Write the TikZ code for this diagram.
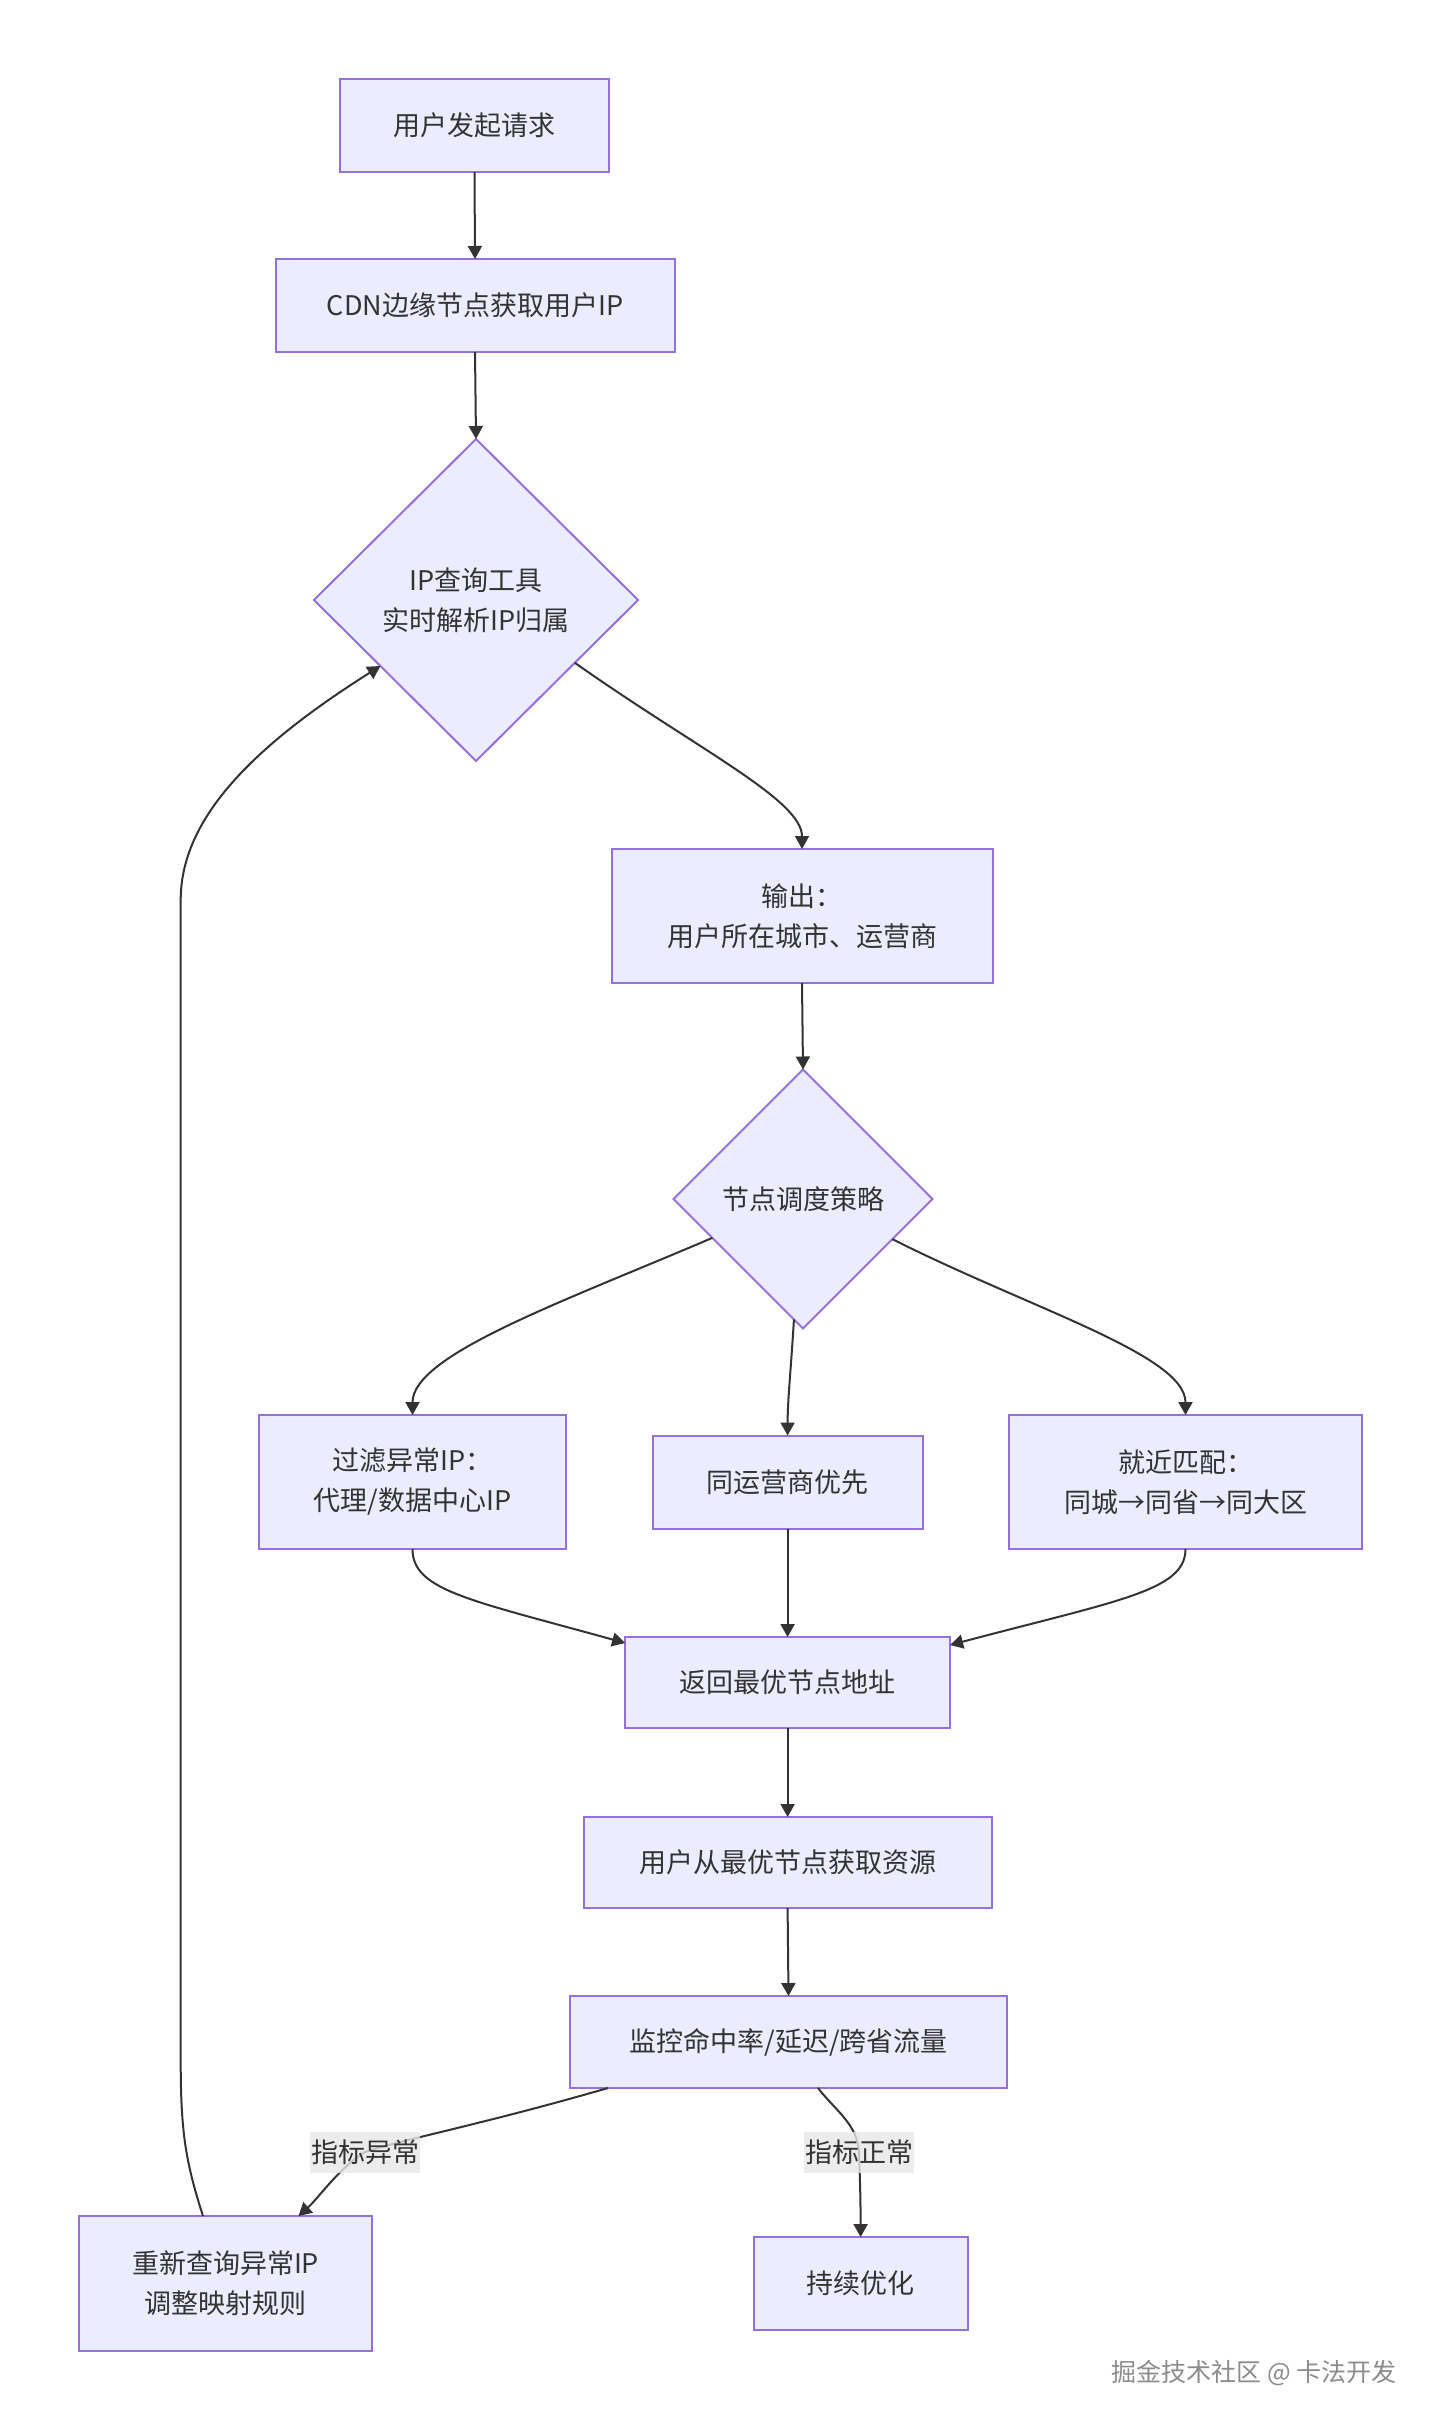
\documentclass[tikz,border=0pt]{standalone}
\usepackage{fontspec}
\setmainfont{Noto Sans CJK SC}
\usetikzlibrary{shapes.geometric,arrows.meta,calc}
\definecolor{nodefill}{HTML}{ECECFF}
\definecolor{nodeline}{HTML}{9370DB}
\definecolor{edgecol}{HTML}{333333}
\definecolor{lblfill}{HTML}{E8E8E8}
\definecolor{wmark}{HTML}{8C8C8C}
\begin{document}
\begin{tikzpicture}[x=1pt,y=-1pt,
  box/.style={draw=nodeline, fill=nodefill, line width=2pt, inner sep=0pt, outer sep=0pt, align=center, text=edgecol, font=\fontsize{27}{40}\selectfont},
  dec/.style={box, shape=diamond, aspect=1},
  edge/.style={draw=edgecol, line width=2pt, -{Triangle[length=13pt,width=14pt]}},
  lbl/.style={fill=lblfill, fill opacity=0.8, text opacity=1, text=edgecol, inner sep=0pt, minimum width=110pt, minimum height=41pt, font=\fontsize{27}{40}\selectfont},
]
\fill[white] (0,0) rectangle (1440,2430);
\useasboundingbox (0,0) rectangle (1440,2430);

\node[box, minimum width=269pt, minimum height=93pt] (b1) at (474.5,125.5) {用户发起请求};
\node[box, minimum width=399pt, minimum height=93pt] (b2) at (475,305.5) {CDN边缘节点获取用户IP};
\node[dec, minimum width=324pt, minimum height=322pt] (d1) at (476,600) {IP查询工具\\实时解析IP归属};
\node[box, minimum width=381pt, minimum height=134pt] (b4) at (802,916) {输出：\\用户所在城市、运营商};
\node[dec, minimum width=259pt, minimum height=259pt] (d2) at (803,1199) {节点调度策略};
\node[box, minimum width=307pt, minimum height=134pt] (b6) at (412.5,1482) {过滤异常IP：\\代理/数据中心IP};
\node[box, minimum width=270pt, minimum height=93pt] (b7) at (787.6,1482) {同运营商优先};
\node[box, minimum width=353pt, minimum height=134pt] (b8) at (1185.5,1482) {就近匹配：\\同城→同省→同大区};
\node[box, minimum width=325pt, minimum height=91pt] (b9) at (787.6,1682.5) {返回最优节点地址};
\node[box, minimum width=408pt, minimum height=91pt] (b10) at (787.6,1862.5) {用户从最优节点获取资源};
\node[box, minimum width=437pt, minimum height=92pt] (b11) at (788.5,2042) {监控命中率/延迟/跨省流量};
\node[box, minimum width=293pt, minimum height=135pt] (b12) at (225.5,2283.5) {重新查询异常IP\\调整映射规则};
\node[box, minimum width=214pt, minimum height=93pt] (b13) at (860.6,2283.5) {持续优化};

\coordinate (l1) at (365,2152);
\coordinate (l2) at (859,2152);

\draw[edge] (b1.south) -- (b2.north);
\draw[edge] (b2.south) -- (d1.north);
\draw[edge] ($(d1.east)!0.39!(d1.south)$) .. controls +(125,88) and +(0,-49) .. (b4.north);
\draw[edge] (b4.south) -- (d2.north);
\draw[edge] ($(d2.west)!0.30!(d2.south)$) .. controls +(-152,65) and +(0,-60) .. (b6.north);
\draw[edge] ($(d2.south)!0.07!(d2.west)$) .. controls +(-3,50) and +(0,-35) .. (b7.north);
\draw[edge] ($(d2.east)!0.31!(d2.south)$) .. controls +(139,70) and +(0,-60) .. (b8.north);
\draw[edge] (b6.south) .. controls +(0,41.5) and +(-155,-43) .. ($(b9.north west)+(0,6)$);
\draw[edge] (b7.south) -- (b9.north);
\draw[edge] (b8.south) .. controls +(0,41.5) and +(170,-45) .. ($(b9.north east)+(0,8)$);
\draw[edge] (b9.south) -- (b10.north);
\draw[edge] (b10.south) -- (b11.north);
\draw[edge] ($(b11.south west)+(38,0)$) .. controls +(-128,37) and +(35,-12) .. (l1) .. controls +(-25,15) and +(20,-18) .. ($(b12.north)+(73,0)$);
\draw[edge] ($(b11.south)+(29.5,0)$) .. controls +(17,22) and +(-1,-27) .. (l2) .. controls +(1,28) and +(0,-37) .. (b13.north);
\draw[edge] ($(b12.north)+(-22.5,0)$) .. controls +(-18,-56) and +(0,70) .. ++(-22.3,-156) -- ++(0,-1160) .. controls +(0,-80) and +(-130,82) .. ($(d1.west)!0.41!(d1.south)$);

\node[lbl] (t1) at (l1) {指标异常};
\node[lbl] (t2) at (l2) {指标正常};

\node[font=\fontsize{25}{30}\selectfont, text=wmark, inner sep=0pt] (wm) at (1254,2373) {掘金技术社区 @ 卡法开发};
\end{tikzpicture}
\end{document}
